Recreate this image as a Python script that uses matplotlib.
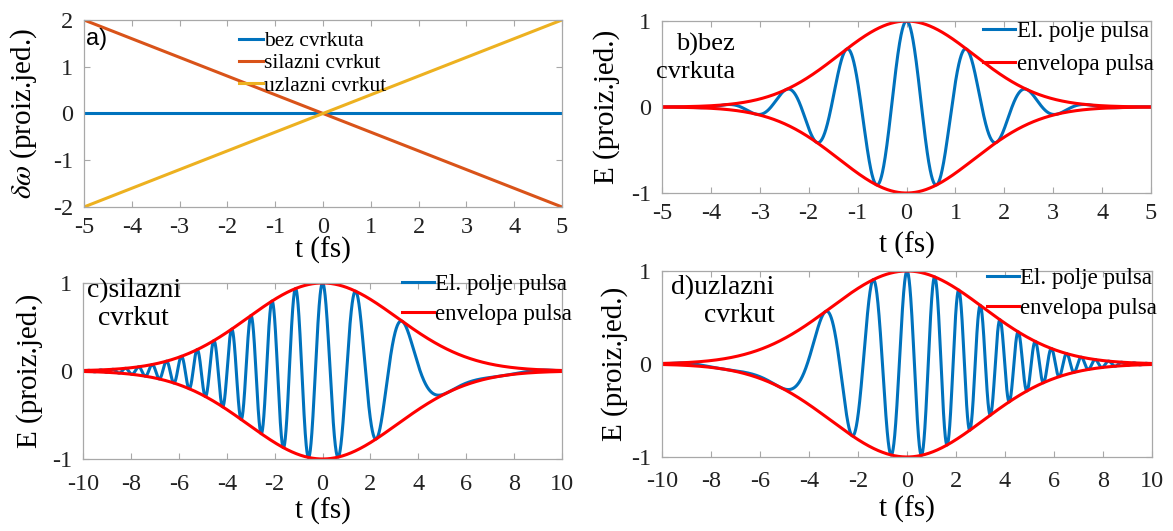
import numpy as np
import matplotlib
matplotlib.use('Agg')
import matplotlib.pyplot as plt

plt.rcParams['font.family'] = ['Liberation Serif', 'DejaVu Serif']
plt.rcParams['mathtext.fontset'] = 'stix'
plt.rcParams['axes.unicode_minus'] = False

# panel a: frequency shift vs time (end points of the lines)
t_a = [-5, 5]
dw_bez = [0, 0]
dw_silazni = [2, -2]
dw_uzlazni = [-2, 2]
labels_a = ['bez cvrkuta', 'silazni cvrkut', 'uzlazni cvrkut']

tau_b = 1.95        # fs, envelope width without chirp
tau_cd = 4.4        # fs, envelope width with chirp
omega0 = 5.1        # rad/fs, carrier
chirp = 0.4         # rad/fs^2
xlim_b = (-5, 5)
xlim_cd = (-10, 10)

blue = '#0072BD'
orange = '#D95319'
yellow = '#EDB120'
red = '#FF0000'

fig = plt.figure(figsize=(11.73, 5.31), dpi=100)
ax_a = fig.add_axes([0.0716, 0.6102, 0.4075, 0.3522])
ax_b = fig.add_axes([0.5644, 0.6365, 0.4169, 0.3239])
ax_c = fig.add_axes([0.0708, 0.1356, 0.4084, 0.3315])
ax_d = fig.add_axes([0.5644, 0.1394, 0.4177, 0.3503])


def style(ax, xpad):
    for s in ax.spines.values():
        s.set_color('#a8a8a8')
        s.set_linewidth(0.9)
    ax.tick_params(direction='in', top=True, right=True, length=4,
                   color='#a8a8a8', labelsize=17.5, labelcolor='#222222')
    ax.tick_params(axis='x', pad=xpad)
    ax.tick_params(axis='y', pad=8)


# a)
ax_a.plot(t_a, dw_bez, color=blue, lw=2.2, label=labels_a[0])
ax_a.plot(t_a, dw_silazni, color=orange, lw=2.2, label=labels_a[1])
ax_a.plot(t_a, dw_uzlazni, color=yellow, lw=2.2, label=labels_a[2])
ax_a.set_xlim(-5, 5)
ax_a.set_ylim(-2, 2)
ax_a.set_xticks(range(-5, 6))
ax_a.set_yticks([-2, -1, 0, 1, 2])
ax_a.set_xlabel('t (fs)', fontsize=21, labelpad=-1)
ax_a.set_ylabel(r'$\delta\omega$ (proiz.jed.)', fontsize=21, labelpad=10)
ax_a.text(0.004, 0.90, 'a)', transform=ax_a.transAxes, fontsize=17,
          family='Liberation Sans', va='center', ha='left')
ax_a.legend(loc='upper left', bbox_to_anchor=(0.325, 0.94), frameon=False,
            fontsize=15.5, handlelength=1.1, handletextpad=0.05,
            labelspacing=0.1, borderpad=0, borderaxespad=0)
style(ax_a, 7.5)

# b)
t_b = np.linspace(xlim_b[0], xlim_b[1], 2000)
env_b = np.exp(-t_b**2 / tau_b**2)
ax_b.plot(t_b, env_b * np.cos(omega0 * t_b), color=blue, lw=2.2, label='El. polje pulsa')
ax_b.plot(t_b, env_b, color=red, lw=2.2, label='envelopa pulsa')
ax_b.plot(t_b, -env_b, color=red, lw=2.2)
ax_b.set_xlim(*xlim_b)
ax_b.set_ylim(-1, 1)
ax_b.set_xticks(range(-5, 6))
ax_b.set_yticks([-1, 0, 1])

# c) and d)
t_cd = np.linspace(xlim_cd[0], xlim_cd[1], 4000)
env_cd = np.exp(-t_cd**2 / tau_cd**2)
ax_c.plot(t_cd, env_cd * np.cos(omega0 * t_cd - chirp * t_cd**2), color=blue, lw=2.2,
          label='El. polje pulsa')
ax_d.plot(t_cd, env_cd * np.cos(omega0 * t_cd + chirp * t_cd**2), color=blue, lw=2.2,
          label='El. polje pulsa')
for ax in (ax_c, ax_d):
    ax.plot(t_cd, env_cd, color=red, lw=2.2, label='envelopa pulsa')
    ax.plot(t_cd, -env_cd, color=red, lw=2.2)
    ax.set_xlim(*xlim_cd)
    ax.set_ylim(-1, 1)
    ax.set_xticks(range(-10, 11, 2))
    ax.set_yticks([-1, 0, 1])

ax_b.set_xlabel('t (fs)', fontsize=21, labelpad=6)
ax_c.set_xlabel('t (fs)', fontsize=21, labelpad=2)
ax_d.set_xlabel('t (fs)', fontsize=21, labelpad=3)
ax_b.set_ylabel('E (proiz.jed.)', fontsize=21, labelpad=8)
ax_c.set_ylabel('E (proiz.jed.)', fontsize=21, labelpad=6)
ax_d.set_ylabel('E (proiz.jed.)', fontsize=21, labelpad=2)
style(ax_b, 7)
style(ax_c, 11)
style(ax_d, 10)

leg_kw = dict(frameon=False, fontsize=16.5, handlelength=1.4, handletextpad=0.05,
              borderpad=0, borderaxespad=0)
ax_b.legend(loc='upper right', bbox_to_anchor=(1.005, 1.0), labelspacing=0.5, **leg_kw)
ax_c.legend(loc='upper right', bbox_to_anchor=(1.02, 1.05), labelspacing=0.4, **leg_kw)
ax_d.legend(loc='upper right', bbox_to_anchor=(1.01, 1.015), labelspacing=0.4, **leg_kw)

ax_b.text(0.149, 0.785, 'b)bez\ncvrkuta', transform=ax_b.transAxes, fontsize=19,
          ha='right', va='center', multialignment='right', linespacing=1.3)
ax_c.text(0.106, 0.875, 'c)silazni\ncvrkut', transform=ax_c.transAxes, fontsize=20,
          ha='center', va='center', linespacing=1.15)
ax_d.text(0.23, 0.833, 'd)uzlazni\ncvrkut', transform=ax_d.transAxes, fontsize=20,
          ha='right', va='center', multialignment='right', linespacing=1.15)

fig.savefig('out.png', dpi=100)
